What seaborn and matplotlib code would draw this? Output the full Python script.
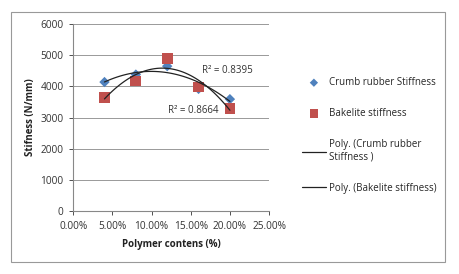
import numpy as np
import pandas as pd
import matplotlib
matplotlib.use("Agg")
import matplotlib.pyplot as plt
import seaborn as sns
from matplotlib.patches import Rectangle

polymer = [0.04, 0.08, 0.12, 0.16, 0.20]
crumb_stiffness = [4140, 4380, 4650, 3920, 3590]
bakelite_stiffness = [3650, 4170, 4900, 3980, 3290]
r2_crumb = "R² = 0.8395"
r2_bakelite = "R² = 0.8664"
x_ticks = [0.0, 0.05, 0.10, 0.15, 0.20, 0.25]
y_ticks = [0, 1000, 2000, 3000, 4000, 5000, 6000]

sns.set_theme(style="white")
plt.rcParams['font.family'] = ['Open Sans', 'DejaVu Sans']

fig = plt.figure(figsize=(4.6, 2.74), dpi=100)
ax = fig.add_axes([0.159, 0.230, 0.426, 0.682])

df = pd.DataFrame({"x": polymer, "crumb": crumb_stiffness, "bake": bakelite_stiffness})

# polynomial trendlines (order 2), like Excel
xs = np.linspace(min(polymer), max(polymer), 100)
fit_c = np.polyval(np.polyfit(polymer, crumb_stiffness, 2), xs)
fit_b = np.polyval(np.polyfit(polymer, bakelite_stiffness, 2), xs)

sns.scatterplot(data=df, x="x", y="crumb", marker="D", s=28, color="#4F81BD",
                edgecolor="none", ax=ax, label="Crumb rubber Stiffness", zorder=3)
sns.scatterplot(data=df, x="x", y="bake", marker="s", s=60, color="#C0504D",
                edgecolor="none", ax=ax, label="Bakelite stiffness", zorder=3)
sns.lineplot(x=xs, y=fit_c, color="#222222", lw=0.9, ax=ax,
             label="Poly. (Crumb rubber\nStiffness )", zorder=4)
sns.lineplot(x=xs, y=fit_b, color="#222222", lw=0.9, ax=ax,
             label="Poly. (Bakelite stiffness)", zorder=4)

ax.text(0.165, 4520, r2_crumb, fontsize=7, color="#333333", va="center")
ax.text(0.121, 3240, r2_bakelite, fontsize=7, color="#333333", va="center")

ax.set_xlim(0, 0.25)
ax.set_ylim(0, 6000)
ax.set_xticks(x_ticks)
ax.set_xticklabels([f"{v*100:.2f}%" for v in x_ticks])
ax.set_yticks(y_ticks)
ax.tick_params(labelsize=7.3, colors="#333333", length=3, width=0.6, pad=4)
ax.tick_params(axis="both", which="both", direction="out", bottom=True, left=True)
ax.yaxis.grid(True, color="#999999", lw=0.7)
ax.set_axisbelow(True)
for s in ["top", "right"]:
    ax.spines[s].set_visible(False)
for s in ["left", "bottom"]:
    ax.spines[s].set_color("#888888")
    ax.spines[s].set_linewidth(0.8)

ax.set_xlabel("Polymer contens (%)", fontsize=7, fontweight="bold", color="#222222", labelpad=5)
ax.set_ylabel("Stifness (N/mm)", fontsize=7, fontweight="bold", color="#222222", labelpad=3)

handles, labels = ax.get_legend_handles_labels()
ax.get_legend().remove()
fig.legend(handles, labels, loc="upper left", bbox_to_anchor=(0.638, 0.75),
           frameon=False, fontsize=7, labelspacing=2.05, handlelength=2.4,
           handletextpad=0.4, markerscale=0.8)

fig.patches.append(Rectangle((0.024, 0.044), 0.944, 0.912, transform=fig.transFigure,
                             fill=False, edgecolor="#999999", lw=0.8))

fig.savefig("out.png", dpi=100)
